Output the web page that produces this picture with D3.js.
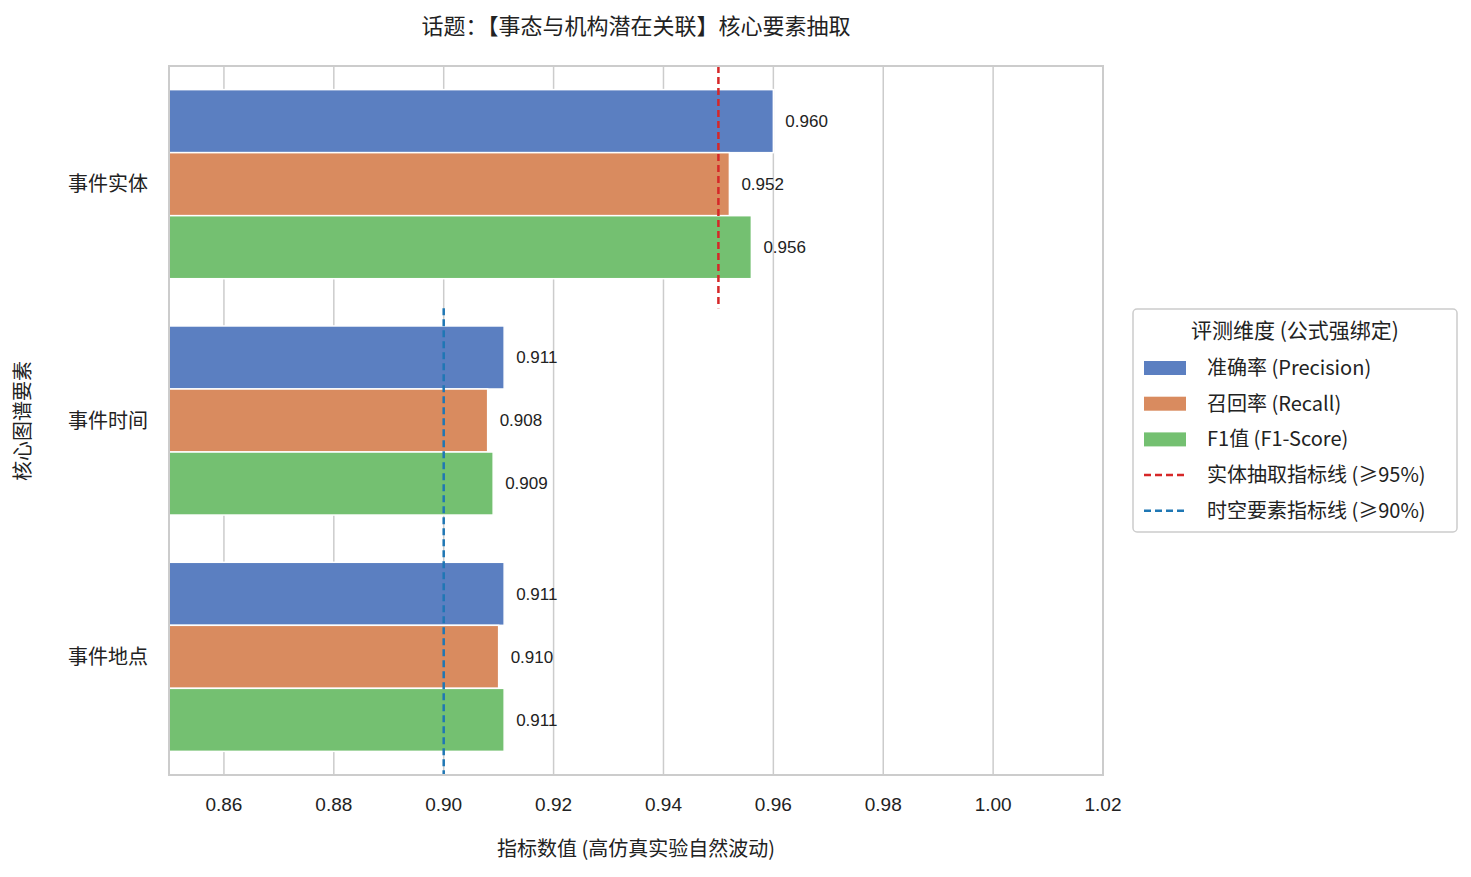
<!DOCTYPE html>
<html><head><meta charset="utf-8">
<script src="https://cdn.jsdelivr.net/npm/d3@7"></script>
<style>body{margin:0;background:#fff;font-family:"Noto Sans CJK SC","DejaVu Sans",sans-serif;}</style>
</head><body><svg id="c" width="1471" height="877"></svg>
<script>
const categories = ["事件实体","事件时间","事件地点"];
const seriesNames = ["准确率 (Precision)","召回率 (Recall)","F1值 (F1-Score)"];
const precision = [0.960,0.911,0.911];
const recall = [0.952,0.908,0.910];
const f1 = [0.956,0.909,0.911];
const xTicks = [0.86,0.88,0.90,0.92,0.94,0.96,0.98,1.00,1.02];
const thresholds = [{name:"实体抽取指标线 (≥95%)",v:0.95,cats:[0]},{name:"时空要素指标线 (≥90%)",v:0.90,cats:[1,2]}];
const colors = ["#5b7fc1","#d98b5f","#74c071"];
const lineColors = ["#d62728","#1f77b4"];
const series=[precision,recall,f1];

const svg=d3.select("#c");
const L=169,R=1103,T=66,B=775;
const x=d3.scaleLinear().domain([0.85,1.02]).range([L,R]);
const y=d3.scaleBand().domain(categories).range([T,B]).paddingInner(0.2).paddingOuter(0.1);
const yOuter=d3.scaleBand().domain(categories).range([T,B]);
const sub=d3.scaleBand().domain([0,1,2]).range([0,y.bandwidth()]);
const g=svg.append("g");
xTicks.forEach(t=>g.append("line").attr("x1",x(t)).attr("x2",x(t)).attr("y1",T).attr("y2",B).attr("stroke","#cccccc").attr("stroke-width",1.5));
categories.forEach((c,i)=>series.forEach((s,j)=>{
  const yy=y(c)+sub(j);
  g.append("rect").attr("x",x(0.85)).attr("y",yy).attr("width",x(s[i])-x(0.85)).attr("height",sub.bandwidth()).attr("fill",colors[j]).attr("stroke","#fff").attr("stroke-width",1.5);
  g.append("text").attr("x",x(s[i])+12).attr("y",yy+sub.bandwidth()/2).attr("dy","0.35em").attr("font-size",17).attr("font-family","Liberation Sans, DejaVu Sans").attr("fill","#222").text(s[i].toFixed(3));
}));
thresholds.forEach((th,k)=>{
  const y1=k===0?T:yOuter(categories[1])+6, y2=k===0?yOuter(categories[1])+6:B;
  g.append("line").attr("x1",x(th.v)).attr("x2",x(th.v)).attr("y1",y1).attr("y2",y2).attr("stroke",lineColors[k]).attr("stroke-width",2.5).attr("stroke-dasharray","7,4");
});
g.append("rect").attr("x",L).attr("y",T).attr("width",R-L).attr("height",B-T).attr("fill","none").attr("stroke","#cccccc").attr("stroke-width",2);
xTicks.forEach(t=>g.append("text").attr("x",x(t)).attr("y",811).attr("text-anchor","middle").attr("font-size",19).attr("font-family","Liberation Sans, DejaVu Sans").attr("fill","#222").text(t.toFixed(2)));
categories.forEach(c=>g.append("text").attr("x",148).attr("y",y(c)+y.bandwidth()/2).attr("dy","0.35em").attr("text-anchor","end").attr("font-size",20).attr("fill","#222").text(c));
svg.append("text").attr("x",636).attr("y",34).attr("text-anchor","middle").attr("font-size",22).attr("fill","#222").text("话题：【事态与机构潜在关联】核心要素抽取");
svg.append("text").attr("x",636).attr("y",856).attr("text-anchor","middle").attr("font-size",20).attr("fill","#222").text("指标数值 (高仿真实验自然波动)");
svg.append("text").attr("transform","translate(30,421) rotate(-90)").attr("text-anchor","middle").attr("font-size",20).attr("fill","#222").text("核心图谱要素");
// legend
const lg=svg.append("g");
lg.append("rect").attr("x",1133).attr("y",309).attr("width",324).attr("height",223).attr("rx",4).attr("fill","#fff").attr("stroke","#cccccc").attr("stroke-width",1.5);
lg.append("text").attr("x",1295).attr("y",338).attr("text-anchor","middle").attr("font-size",21).attr("fill","#222").text("评测维度 (公式强绑定)");
const items=seriesNames.map((n,i)=>({n,t:"rect",c:colors[i]})).concat(thresholds.map((th,k)=>({n:th.name,t:"line",c:lineColors[k]})));
items.forEach((it,i)=>{
  const cy=368+i*35.7;
  if(it.t==="rect") lg.append("rect").attr("x",1144).attr("y",cy-7).attr("width",42).attr("height",14).attr("fill",it.c);
  else lg.append("line").attr("x1",1144).attr("x2",1186).attr("y1",cy).attr("y2",cy).attr("stroke",it.c).attr("stroke-width",2.5).attr("stroke-dasharray","7,4");
  lg.append("text").attr("x",1207).attr("y",cy).attr("dy","0.35em").attr("font-size",20).attr("fill","#222").text(it.n);
});
</script></body></html>
